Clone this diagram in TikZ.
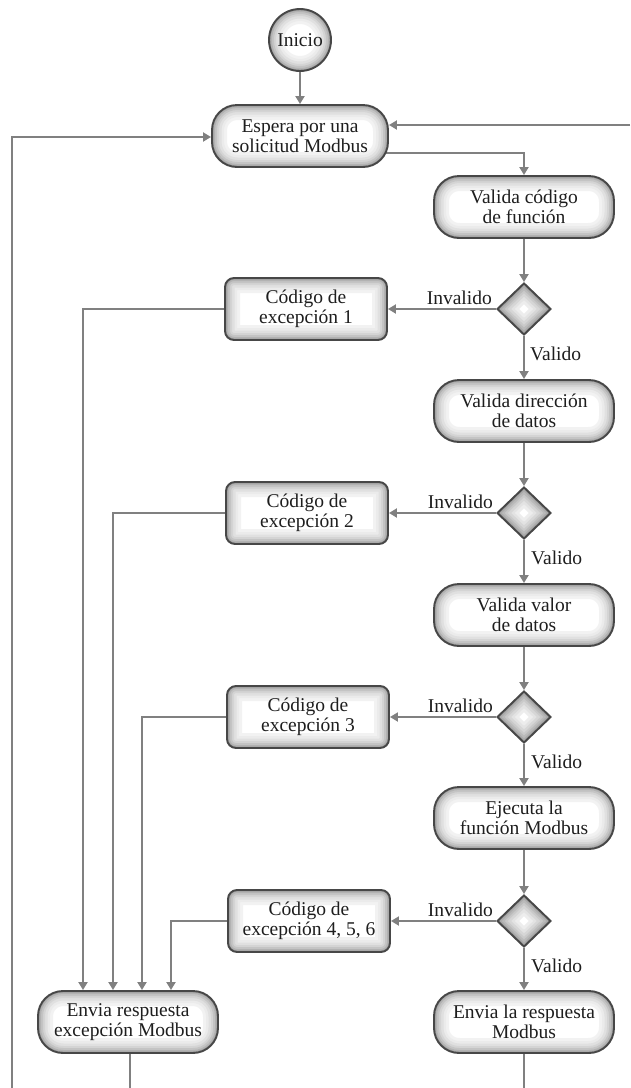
\documentclass[tikz,border=0pt]{standalone}
\usepackage{fontspec}
\setmainfont{Liberation Serif}
\usetikzlibrary{arrows.meta,shapes.geometric,backgrounds}

\definecolor{boxline}{HTML}{474747}
\definecolor{connc}{HTML}{808080}
\definecolor{ink}{HTML}{1E1E1E}

\tikzset{
  % inner glow painted with stacked strokes clipped to the shape
  glowpath/.style={
    path picture={
      \foreach \w/\c in {30/5,24/8,19/12,14/17,10/23,6/30,3/38}{
        \draw[line width=\w pt, black!\c, rounded corners=#1]
          (path picture bounding box.south west) rectangle (path picture bounding box.north east);
      }
    }
  },
  basebox/.style={draw=boxline, line width=1.9pt, fill=white, text=ink,
    font=\fontsize{19.5}{20}\selectfont, align=center, inner sep=0pt},
  pill/.style={basebox, rectangle, rounded corners=25pt, minimum width=180pt,
    minimum height=62pt, glowpath=25pt},
  codebox/.style={basebox, rectangle, rounded corners=9pt, minimum width=162pt,
    minimum height=62pt, glowpath=9pt},
  startnode/.style={basebox, circle, minimum size=62pt,
    path picture={
      \foreach \w/\c in {30/5,24/8,19/12,14/17,10/23,6/30,3/38}{
        \draw[line width=\w pt, black!\c] (path picture bounding box.center) circle (31pt);
      }
    }},
  decision/.style={draw=boxline, line width=1.9pt, fill=white, diamond,
    minimum width=54pt, minimum height=52pt, inner sep=0pt,
    path picture={
      \foreach \w/\c in {30/7,24/11,19/16,14/21,10/27,6/33,3/41}{
        \draw[line width=\w pt, black!\c]
          (path picture bounding box.north) -- (path picture bounding box.east) --
          (path picture bounding box.south) -- (path picture bounding box.west) -- cycle;
      }
    }},
  conn/.style={draw=connc, line width=1.9pt,
    -{Triangle[length=8pt,width=9pt]}},
  plain/.style={draw=connc, line width=1.9pt},
  lbl/.style={text=ink, font=\fontsize{19.5}{20}\selectfont, inner sep=0pt},
}

\begin{document}
\begin{tikzpicture}[x=1pt,y=-1pt]
\useasboundingbox (0,0) rectangle (630,1088);

% main column
\node[startnode] (start) at (300,40) {Inicio};
\node[pill, minimum width=176pt] (wait) at (300,136) {Espera por una\\solicitud Modbus};
\node[pill] (vc) at (524,207) {Valida código\\de función};
\node[decision] (d1) at (524,309) {};
\node[codebox] (e1) at (306,309) {Código de\\excepción 1};
\node[pill] (vd) at (524,411) {Valida dirección\\de datos};
\node[decision] (d2) at (524,513) {};
\node[codebox] (e2) at (307,513) {Código de\\excepción 2};
\node[pill] (vv) at (524,615) {Valida valor\\de datos};
\node[decision] (d3) at (524,717) {};
\node[codebox] (e3) at (308,717) {Código de\\excepción 3};
\node[pill] (ej) at (524,818) {Ejecuta la\\función Modbus};
\node[decision] (d4) at (524,921) {};
\node[codebox] (e4) at (309,921) {Código de\\excepción 4, 5, 6};
\node[pill] (ex) at (128,1022) {Envia respuesta\\excepción Modbus};
\node[pill] (ok) at (524,1022) {Envia la respuesta\\Modbus};

% branch labels
\node[lbl, anchor=south east] (i1) at (492,305) {Invalido};
\node[lbl, anchor=south east] (i2) at (493,509) {Invalido};
\node[lbl, anchor=south east] (i3) at (493,713) {Invalido};
\node[lbl, anchor=south east] (i4) at (493,917) {Invalido};
\node[lbl, anchor=west] (v1) at (530,354) {Valido};
\node[lbl, anchor=west] (v2) at (531,558) {Valido};
\node[lbl, anchor=west] (v3) at (531,762) {Valido};
\node[lbl, anchor=west] (v4) at (531,966) {Valido};

% free ends at the edges
\coordinate (loopL) at (12,1088);
\coordinate (loopR) at (630,125);
\coordinate (endEx) at (130,1088);
\coordinate (endOk) at (524,1088);

\begin{pgfonlayer}{background}
\draw[conn] (start) -- (wait);
\draw[conn] ([xshift=-10pt,yshift=-17pt]wait.east) -| (vc.north);
\draw[conn] (vc) -- (d1);
\draw[conn] (d1) -- (e1);
\draw[conn] (d1) -- (vd);
\draw[conn] (vd) -- (d2);
\draw[conn] (d2) -- (e2);
\draw[conn] (d2) -- (vv);
\draw[conn] (vv) -- (d3);
\draw[conn] (d3) -- (e3);
\draw[conn] (d3) -- (ej);
\draw[conn] (ej) -- (d4);
\draw[conn] (d4) -- (e4);
\draw[conn] (d4) -- (ok);
\draw[conn] (e1.west) -| ([xshift=-45pt]ex.north);
\draw[conn] (e2.west) -| ([xshift=-15pt]ex.north);
\draw[conn] (e3.west) -| ([xshift=14pt]ex.north);
\draw[conn] (e4.west) -| ([xshift=43pt]ex.north);
\draw[plain] ([xshift=2pt]ex.south) -- (endEx);
\draw[plain] (ok.south) -- (endOk);
\draw[conn] (loopL) |- ([yshift=-1pt]wait.west);
\draw[conn] (loopR) -- (loopR -| wait.east);
\end{pgfonlayer}
\end{tikzpicture}
\end{document}
